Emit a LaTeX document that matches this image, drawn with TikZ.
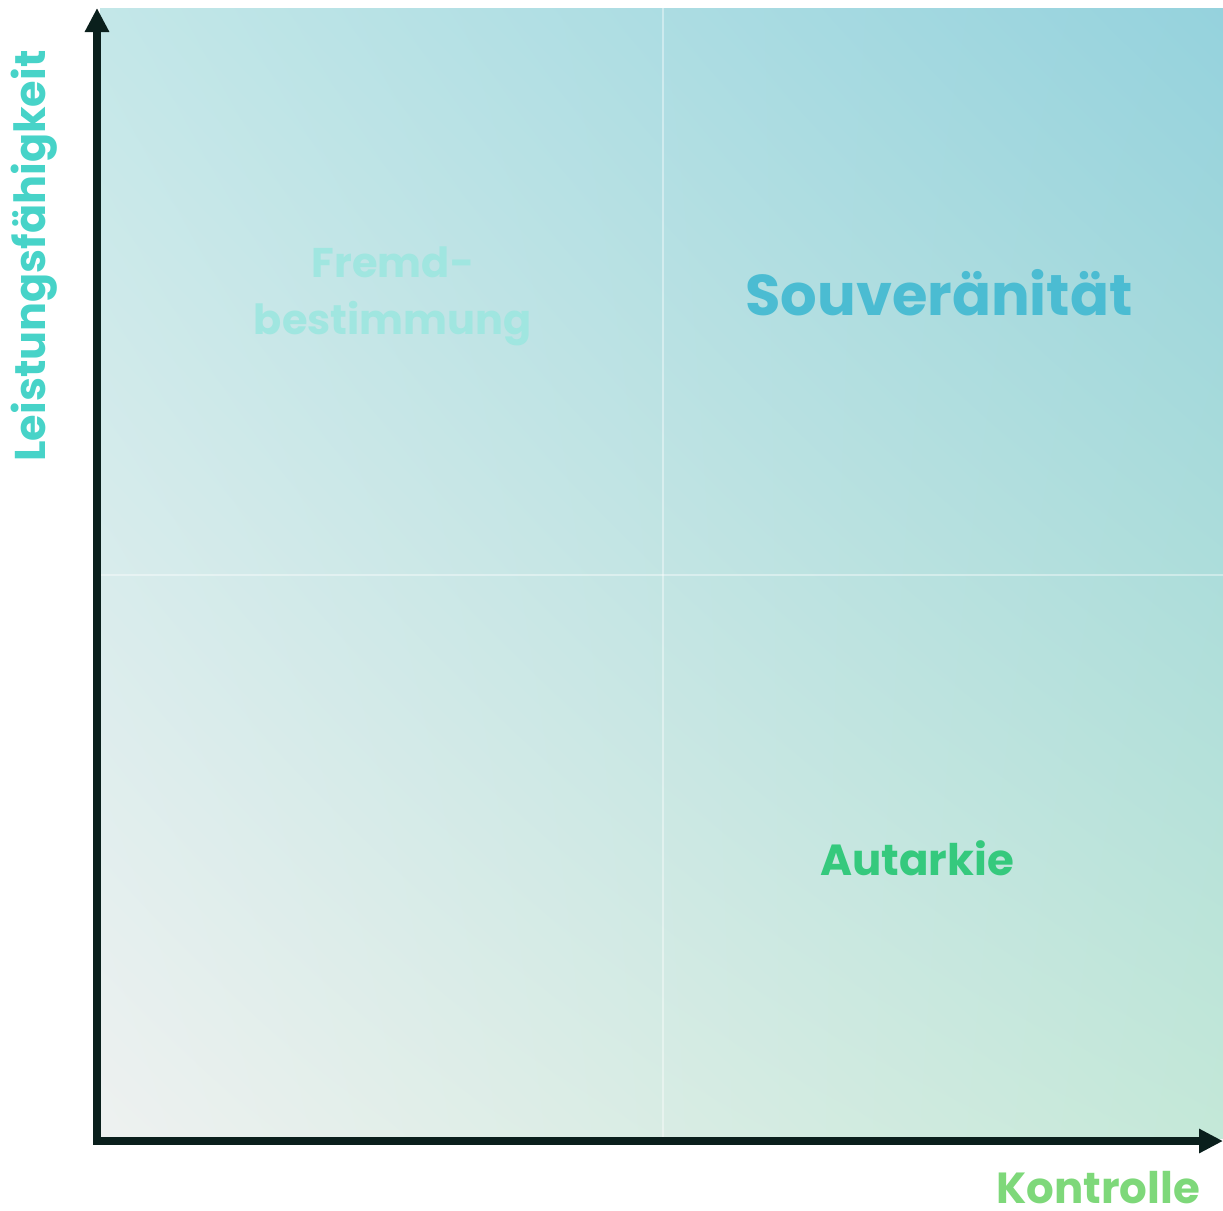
\documentclass[tikz,border=0pt]{standalone}
\usepackage{fontspec}
\setmainfont{Poppins}
\usetikzlibrary{arrows.meta,shadings}
\definecolor{cUL}{HTML}{C3E7E8}
\definecolor{cUR}{HTML}{95D2DD}
\definecolor{cLL}{HTML}{EEF1F0}
\definecolor{cLR}{HTML}{C4E8D8}
\definecolor{axiscol}{HTML}{0A1F1C}
\definecolor{fremdcol}{HTML}{A0E6E0}
\definecolor{souvcol}{HTML}{4BBCD2}
\definecolor{autcol}{HTML}{35C97D}
\definecolor{kontcol}{HTML}{7ED87A}
\definecolor{leistcol}{HTML}{47D3C8}
\tikzset{
  gridline/.style={draw=white, opacity=0.4, line width=2pt},
  axis/.style={draw=axiscol, line width=7.5pt, {Triangle[length=24pt,width=23pt]}-{Triangle[length=24pt,width=23pt]}},
  lbl/.style={font=\bfseries, inner sep=0pt, align=center},
}
\begin{document}
\begin{tikzpicture}[x=1pt,y=-1pt]
\useasboundingbox (0,0) rectangle (1223,1210);
\shade[upper left=cUL, upper right=cUR, lower left=cLL, lower right=cLR] (100,8) rectangle (1223,1138);
\coordinate (vt) at (663,8);
\coordinate (vb) at (663,1137);
\coordinate (hl) at (101,575);
\coordinate (hr) at (1223,575);
\draw[gridline] (vt) -- (vb);
\draw[gridline] (hl) -- (hr);
\coordinate (ytip) at (97,8);
\coordinate (O) at (97,1141);
\coordinate (xtip) at (1223,1141);
\draw[axis] (ytip) -- (O) -- (xtip);
\node[lbl, text=fremdcol, font=\bfseries\fontsize{41.5}{57}\selectfont] (fremd) at (393,296) {Fremd-\\bestimmung};
\node[lbl, text=souvcol, font=\bfseries\fontsize{57.5}{60}\selectfont] (souv) at (939,293) {Souveränität};
\node[lbl, text=autcol, font=\bfseries\fontsize{43.5}{50}\selectfont] (aut) at (917,858) {Autarkie};
\node[lbl, text=kontcol, font=\bfseries\fontsize{43.5}{50}\selectfont] (kont) at (1098,1188) {Kontrolle};
\node[lbl, text=leistcol, rotate=90, font=\bfseries\fontsize{43}{50}\selectfont] (leist) at (34,256) {Leistungsfähigkeit};
\end{tikzpicture}
\end{document}
